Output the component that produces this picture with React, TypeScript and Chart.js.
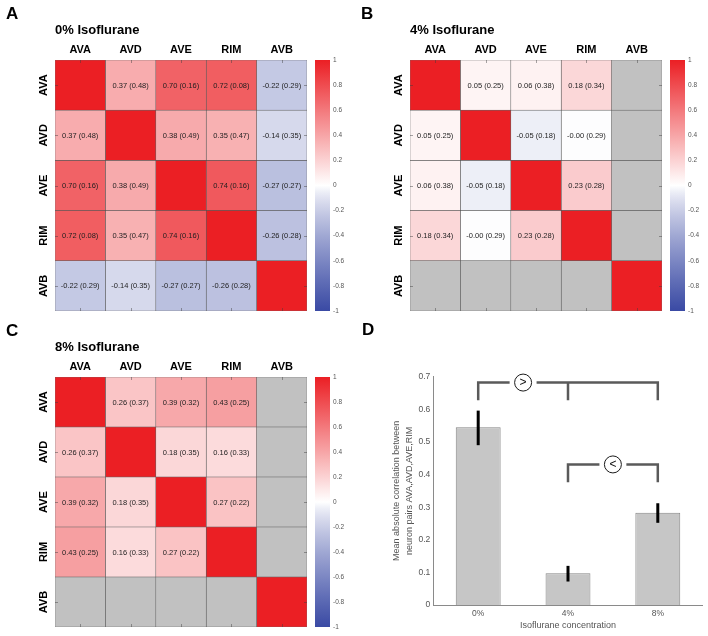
import React, { useEffect, useRef } from 'react';
import { Chart, registerables } from 'chart.js';

Chart.register(...registerables);

const FONT = "'Liberation Sans', Arial, Helvetica, sans-serif";
Chart.defaults.font.family = FONT;

const NEURONS = ['AVA', 'AVD', 'AVE', 'RIM', 'AVB'];

// Panel A – 0% isoflurane (mean correlation, SD in brackets)
const MEAN_0: (number | null)[][] = [
  [1, 0.37, 0.7, 0.72, -0.22],
  [0.37, 1, 0.38, 0.35, -0.14],
  [0.7, 0.38, 1, 0.74, -0.27],
  [0.72, 0.35, 0.74, 1, -0.26],
  [-0.22, -0.14, -0.27, -0.26, 1],
];
const SD_0: (number | null)[][] = [
  [null, 0.48, 0.16, 0.08, 0.29],
  [0.48, null, 0.49, 0.47, 0.35],
  [0.16, 0.49, null, 0.16, 0.27],
  [0.08, 0.47, 0.16, null, 0.28],
  [0.29, 0.35, 0.27, 0.28, null],
];

// Panel B – 4% isoflurane
const MEAN_4: (number | null)[][] = [
  [1, 0.05, 0.06, 0.18, null],
  [0.05, 1, -0.05, -0.004, null],
  [0.06, -0.05, 1, 0.23, null],
  [0.18, -0.004, 0.23, 1, null],
  [null, null, null, null, 1],
];
const SD_4: (number | null)[][] = [
  [null, 0.25, 0.38, 0.34, null],
  [0.25, null, 0.18, 0.29, null],
  [0.38, 0.18, null, 0.28, null],
  [0.34, 0.29, 0.28, null, null],
  [null, null, null, null, null],
];

// Panel C – 8% isoflurane
const MEAN_8: (number | null)[][] = [
  [1, 0.26, 0.39, 0.43, null],
  [0.26, 1, 0.18, 0.16, null],
  [0.39, 0.18, 1, 0.27, null],
  [0.43, 0.16, 0.27, 1, null],
  [null, null, null, null, 1],
];
const SD_8: (number | null)[][] = [
  [null, 0.37, 0.32, 0.25, null],
  [0.37, null, 0.35, 0.33, null],
  [0.32, 0.35, null, 0.22, null],
  [0.25, 0.33, 0.22, null, null],
  [null, null, null, null, null],
];

const COLORBAR_TICKS = [-1, -0.8, -0.6, -0.4, -0.2, 0, 0.2, 0.4, 0.6, 0.8, 1];

// Panel D
const CONCENTRATIONS = ['0%', '4%', '8%'];
const MEAN_ABS_CORR = [0.545, 0.097, 0.283];
const ERR_LOW = [0.49, 0.072, 0.252];
const ERR_HIGH = [0.596, 0.12, 0.312];
const D_Y_TICKS = [0, 0.1, 0.2, 0.3, 0.4, 0.5, 0.6, 0.7];
const SIG_SYMBOLS = ['>', '<'];
const SIG_X = [0.5, 1.5];
const SIG_Y = [0.682, 0.431];
const SIG_FOOT = [0.628, 0.376];
const SIG_FEET: number[][] = [[0, 1, 2], [1, 2]];
const SIG_GAP = 0.15;

const RED = [235, 31, 36];
const BLUE = [58, 74, 164];
const NA_GREY = '#c1c1c1';

function cmap(v: number): string {
  const base = v >= 0 ? RED : BLUE;
  const t = v >= 0 ? Math.min(v, 1) : Math.pow(Math.min(-v, 1), 0.8);
  const c = [0, 1, 2].map((k) => Math.round(255 + (base[k] - 255) * t));
  return `rgb(${c[0]},${c[1]},${c[2]})`;
}

function ChartCanvas({ left, top, width, height, build }: { left: number; top: number; width: number; height: number; build: () => any }) {
  const ref = useRef<HTMLCanvasElement>(null);
  useEffect(() => {
    const chart = new Chart(ref.current as HTMLCanvasElement, build());
    return () => chart.destroy();
  }, []);
  return (
    <canvas
      ref={ref}
      width={width}
      height={height}
      style={{ position: 'absolute', left, top, width, height }}
    />
  );
}

function heatmapConfig(mean: (number | null)[][], sd: (number | null)[][], title: string, letter: string, gridTop: number, gridBottomPad: number) {
  const labelsPlugin = {
    id: 'heatLabels',
    afterDatasetsDraw(chart: any) {
      const { ctx, chartArea: a, scales } = chart;
      const x = scales.x;
      const y = scales.y;
      ctx.save();
      ctx.strokeStyle = 'rgba(60,60,60,0.45)';
      ctx.lineWidth = 1;
      NEURONS.forEach((_, k) => {
        const px = Math.round(x.getPixelForValue(k)) + 0.5;
        const py = Math.round(y.getPixelForValue(k)) + 0.5;
        ctx.beginPath();
        ctx.moveTo(px, a.bottom);
        ctx.lineTo(px, a.bottom - 3);
        ctx.moveTo(px, a.top);
        ctx.lineTo(px, a.top + 3);
        ctx.moveTo(a.left, py);
        ctx.lineTo(a.left + 3, py);
        ctx.moveTo(a.right, py);
        ctx.lineTo(a.right - 3, py);
        ctx.stroke();
      });
      ctx.font = `7.5px ${FONT}`;
      ctx.fillStyle = '#1e1e1e';
      ctx.textAlign = 'center';
      ctx.textBaseline = 'middle';
      mean.forEach((row, i) =>
        row.forEach((v, j) => {
          const s = sd[i][j];
          if (v == null || s == null) return;
          ctx.fillText(`${v.toFixed(2)} (${s.toFixed(2)})`, x.getPixelForValue(j), y.getPixelForValue(i) + 0.5);
        })
      );
      ctx.restore();
    },
    afterDraw(chart: any) {
      const { ctx, chartArea: a, scales } = chart;
      const x = scales.x;
      const y = scales.y;
      ctx.save();
      ctx.fillStyle = '#000';
      ctx.textAlign = 'left';
      ctx.textBaseline = 'alphabetic';
      ctx.font = `bold 17px ${FONT}`;
      ctx.fillText(letter, a.left - 49, a.top - 41.5);
      ctx.font = `bold 13px ${FONT}`;
      ctx.fillText(title, a.left, a.top - 25.7);
      ctx.font = `bold 11px ${FONT}`;
      ctx.textAlign = 'center';
      NEURONS.forEach((n, j) => ctx.fillText(n, x.getPixelForValue(j), a.top - 7.3));
      NEURONS.forEach((n, i) => {
        ctx.save();
        ctx.translate(a.left - 8.3, y.getPixelForValue(i));
        ctx.rotate(-Math.PI / 2);
        ctx.fillText(n, 0, 0);
        ctx.restore();
      });
      ctx.restore();
    },
  };
  return () => ({
    type: 'bar',
    data: {
      labels: NEURONS,
      datasets: NEURONS.map((col, j) => ({
        label: col,
        data: NEURONS.map(() => [j - 0.5, j + 0.5]),
        backgroundColor: NEURONS.map((_, i) => {
          const v = mean[i][j];
          return v == null ? NA_GREY : cmap(v);
        }),
        borderColor: 'rgba(70,70,70,0.8)',
        borderWidth: 0.6,
        borderSkipped: false,
        grouped: false,
        barPercentage: 1,
        categoryPercentage: 1,
      })),
    },
    options: {
      indexAxis: 'y',
      animation: false,
      responsive: false,
      events: [],
      layout: { autoPadding: false, padding: { left: 0, top: 0, right: 5, bottom: gridBottomPad } },
      scales: {
        x: {
          type: 'linear',
          position: 'top',
          min: -0.5,
          max: 4.5,
          offset: false,
          grid: { display: false, drawTicks: false },
          border: { display: false },
          ticks: { display: false },
          afterFit: (s: any) => {
            s.height = gridTop;
          },
        },
        y: {
          type: 'category',
          grid: { display: false, drawTicks: false },
          border: { display: false },
          ticks: { display: false },
          afterFit: (s: any) => {
            s.width = 55;
          },
        },
      },
      plugins: { legend: { display: false }, tooltip: { enabled: false }, title: { display: false } },
    },
    plugins: [labelsPlugin],
  });
}

function colorbarConfig(barTop: number, barBottomPad: number) {
  return () => ({
    type: 'bar',
    data: {
      labels: ['colorbar'],
      datasets: [
        {
          data: [[COLORBAR_TICKS[0], COLORBAR_TICKS[COLORBAR_TICKS.length - 1]]],
          backgroundColor: (ctx: any) => {
            const chart = ctx.chart;
            const ys = chart.scales.y;
            if (!chart.chartArea || !ys) return '#ccc';
            const g = chart.ctx.createLinearGradient(0, ys.getPixelForValue(-1), 0, ys.getPixelForValue(1));
            for (let k = 0; k <= 40; k++) {
              g.addColorStop(k / 40, cmap(-1 + k * 0.05));
            }
            return g;
          },
          borderWidth: 0,
          barPercentage: 1,
          categoryPercentage: 1,
        },
      ],
    },
    options: {
      animation: false,
      responsive: false,
      events: [],
      layout: { autoPadding: false, padding: { left: 3, right: 0, top: barTop, bottom: barBottomPad } },
      scales: {
        x: { display: false },
        y: {
          position: 'right',
          min: -1,
          max: 1,
          afterBuildTicks: (s: any) => {
            s.ticks = COLORBAR_TICKS.map((v) => ({ value: v }));
          },
          ticks: {
            callback: (v: number) => String(Math.round(v * 10) / 10),
            font: { size: 6.5, family: FONT },
            color: '#555',
            padding: 3,
          },
          grid: { display: false, drawTicks: false },
          border: { display: false },
          afterFit: (s: any) => {
            s.width = 22;
          },
        },
      },
      plugins: { legend: { display: false }, tooltip: { enabled: false } },
    },
  });
}

function barConfig() {
  const line = (pts: number[][], color: string, width: number) => ({
    type: 'line',
    data: pts.map(([x, y]) => ({ x, y })),
    borderColor: color,
    borderWidth: width,
    pointRadius: 0,
    fill: false,
    tension: 0,
    order: 0,
    clip: false,
    borderCapStyle: 'butt',
    borderJoinStyle: 'miter',
  });
  const errorBars = MEAN_ABS_CORR.map((_, i) => line([[i, ERR_LOW[i]], [i, ERR_HIGH[i]]], '#000', 3));
  const brackets: any[] = [];
  SIG_FEET.forEach((feet, k) => {
    const first = feet[0];
    const last = feet[feet.length - 1];
    const yb = SIG_Y[k];
    const yf = SIG_FOOT[k];
    brackets.push(line([[first, yf], [first, yb], [SIG_X[k] - SIG_GAP, yb]], '#5a5a5a', 2.5));
    brackets.push(line([[SIG_X[k] + SIG_GAP, yb], [last, yb], [last, yf]], '#5a5a5a', 2.5));
    feet.slice(1, -1).forEach((f) => brackets.push(line([[f, yb], [f, yf]], '#5a5a5a', 2.5)));
  });
  const circles = {
    type: 'line',
    label: 'sig',
    data: SIG_X.map((x, k) => ({ x, y: SIG_Y[k] })),
    showLine: false,
    clip: false,
    pointRadius: 8.5,
    pointStyle: 'circle',
    pointBackgroundColor: '#fff',
    pointBorderColor: '#1a1a1a',
    pointBorderWidth: 1,
    order: -1,
  };
  const symbolPlugin = {
    id: 'sigSymbols',
    afterDatasetsDraw(chart: any) {
      const idx = chart.data.datasets.findIndex((d: any) => d.label === 'sig');
      const meta = chart.getDatasetMeta(idx);
      const { ctx } = chart;
      ctx.save();
      ctx.fillStyle = '#111';
      ctx.font = `12px ${FONT}`;
      ctx.textAlign = 'center';
      ctx.textBaseline = 'middle';
      meta.data.forEach((el: any, k: number) => ctx.fillText(SIG_SYMBOLS[k], el.x, el.y + 0.5));
      ctx.font = `bold 17px ${FONT}`;
      ctx.textAlign = 'left';
      ctx.textBaseline = 'alphabetic';
      ctx.fillStyle = '#000';
      ctx.fillText('D', 12, 17);
      ctx.restore();
    },
  };
  return () => ({
    type: 'bar',
    data: {
      datasets: [
        circles,
        ...errorBars,
        ...brackets,
        {
          type: 'bar',
          data: MEAN_ABS_CORR.map((m, i) => ({ x: i, y: m })),
          backgroundColor: '#c6c6c6',
          borderColor: '#868686',
          borderWidth: 1,
          barPercentage: 0.5,
          categoryPercentage: 1,
          order: 10,
        },
      ],
    },
    options: {
      animation: false,
      responsive: false,
      events: [],
      layout: { autoPadding: false, padding: { left: 0, top: 58.7, right: 5.3, bottom: 0 } },
      scales: {
        x: {
          type: 'linear',
          min: -0.5,
          max: 2.5,
          offset: false,
          afterBuildTicks: (s: any) => {
            s.ticks = CONCENTRATIONS.map((_, i) => ({ value: i }));
          },
          ticks: {
            callback: (v: number) => CONCENTRATIONS[v] ?? '',
            font: { size: 8.5, family: FONT },
            color: '#555',
            padding: 4,
            autoSkip: false,
            maxRotation: 0,
          },
          grid: { display: false, drawTicks: false, offset: false },
          border: { display: true, color: '#8a8a8a', width: 1 },
          title: {
            display: true,
            text: 'Isoflurane concentration',
            font: { size: 9, family: FONT },
            color: '#555',
            padding: { top: 0, bottom: 5 },
          },
          afterFit: (s: any) => {
            s.height = 31;
          },
        },
        y: {
          type: 'linear',
          min: 0,
          max: 0.7,
          afterBuildTicks: (s: any) => {
            s.ticks = D_Y_TICKS.map((v) => ({ value: v }));
          },
          ticks: {
            callback: (v: number) => (v === 0 ? '0' : v.toFixed(1)),
            font: { size: 8.5, family: FONT },
            color: '#555',
            padding: 3,
          },
          grid: { display: false, drawTicks: false },
          border: { display: true, color: '#8a8a8a', width: 1 },
          title: {
            display: true,
            text: ['Mean absolute correlation between', 'neuron pairs AVA,AVD,AVE,RIM'],
            font: { size: 9, family: FONT, lineHeight: 1.48 },
            color: '#555',
            padding: { top: 40, bottom: 0 },
          },
          afterFit: (s: any) => {
            s.width = 83.3;
          },
        },
      },
      plugins: { legend: { display: false }, tooltip: { enabled: false } },
    },
    plugins: [symbolPlugin],
  });
}

export default function App() {
  return (
    <div style={{ position: 'absolute', left: 0, top: 0, width: 708, height: 636, background: '#fff' }}>
      <ChartCanvas left={0} top={0} width={312} height={318} build={heatmapConfig(MEAN_0, SD_0, '0% Isoflurane', 'A', 60, 7)} />
      <ChartCanvas left={312} top={0} width={40} height={318} build={colorbarConfig(60, 7)} />
      <ChartCanvas left={355} top={0} width={312} height={318} build={heatmapConfig(MEAN_4, SD_4, '4% Isoflurane', 'B', 60, 7)} />
      <ChartCanvas left={667} top={0} width={40} height={318} build={colorbarConfig(60, 7)} />
      <ChartCanvas left={0} top={317} width={312} height={318} build={heatmapConfig(MEAN_8, SD_8, '8% Isoflurane', 'C', 60, 8)} />
      <ChartCanvas left={312} top={317} width={40} height={318} build={colorbarConfig(60, 8)} />
      <ChartCanvas left={350} top={318} width={358} height={318} build={barConfig()} />
    </div>
  );
}
